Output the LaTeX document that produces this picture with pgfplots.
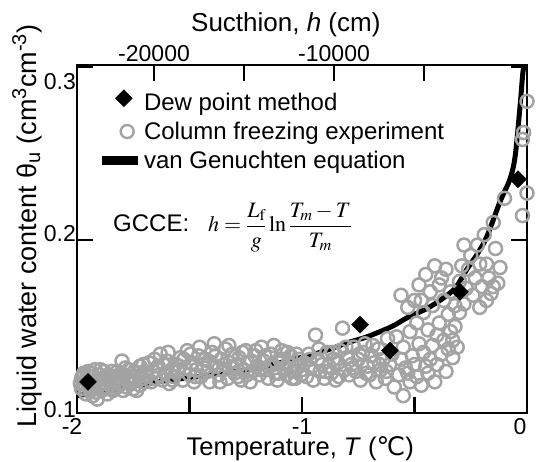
\documentclass[border=0pt]{standalone}
\usepackage{mathptmx}
\usepackage[no-math]{fontspec}
\setmainfont{Liberation Sans}
\newfontfamily\dejavu{DejaVu Sans}
\usepackage{pgfplots}
\pgfplotsset{compat=1.18}
\definecolor{cgray}{HTML}{A3A3A3}
\begin{document}
\begin{tikzpicture}
\begin{axis}[
 at={(0pt,0pt)}, anchor=south west,
 scale only axis, width=450pt, height=348pt,
 xmin=-2, xmax=0, ymin=0.1, ymax=0.301,
 xtick={-2,-1.5,-1,-0.5,0},
 xticklabels={{\makebox[0pt]{-2\hspace{10pt}}},,-1,,{\makebox[0pt]{0\hspace{14pt}}}},
 ytick={0.1,0.2,0.3},
 yticklabels={{\raisebox{-5pt}[0pt][0pt]{0.1}},{\raisebox{-2pt}[0pt][0pt]{0.2}},{\raisebox{-23pt}[0pt][0pt]{0.3}}},
 xtick pos=bottom, ytick pos=both, yticklabel pos=left,
 tick align=inside, major tick length=16pt,
 axis line style={line width=2.5pt},
 every tick/.append style={line width=2.5pt, black},
 tick label style={font=\fontsize{23}{27}\selectfont},
 xticklabel style={anchor=base, yshift=-22pt},
 yticklabel style={anchor=base east, inner sep=0pt, xshift=-1pt},
 xlabel={Temperature, \textit{T} ({\dejavu ℃})},
 xlabel style={at={(axis description cs:0.496,-0.123)}, anchor=base, font=\fontsize{25.5}{30}\selectfont},
 ylabel={Liquid water content θ\textsubscript{u} (cm\textsuperscript{3}cm\textsuperscript{-3})},
 ylabel style={at={(axis description cs:-0.091,0.537)}, anchor=base, font=\fontsize{27}{32}\selectfont},
 legend style={at={(axis description cs:0.044,0.93)}, anchor=north west, draw=none, fill=none,
   font=\fontsize{24}{28}\selectfont, inner sep=0pt, row sep=6pt},
 legend cell align=left,
]
\addlegendimage{legend image code/.code={\node[draw=black,fill=black,rotate=45,minimum size=12pt,inner sep=0pt] at (18pt,0pt) {};}}
\addlegendentry{Dew point method}
\addlegendimage{legend image code/.code={\node[draw=cgray,circle,line width=2.4pt,minimum size=13pt,inner sep=0pt] at (18pt,0pt) {};}}
\addlegendentry{Column freezing experiment}
\addlegendimage{legend image code/.code={\draw[black,line width=9pt] (0pt,0pt) -- (36pt,0pt);}}
\addlegendentry{van Genuchten equation}

% van Genuchten curve
\addplot[black, line width=5pt, smooth, tension=0.5, forget plot] coordinates {
(-2.00,0.110) (-1.90,0.112) (-1.778,0.115) (-1.587,0.119) (-1.40,0.122) (-1.20,0.126)
(-1.084,0.1295) (-0.92,0.135) (-0.787,0.141) (-0.711,0.144) (-0.60,0.150) (-0.533,0.155)
(-0.45,0.160) (-0.387,0.165) (-0.32,0.172) (-0.267,0.183) (-0.22,0.192) (-0.178,0.202)
(-0.12,0.222) (-0.076,0.235) (-0.053,0.248) (-0.031,0.277) (-0.018,0.297) (-0.009,0.302)
};

% column freezing experiment
\addplot[only marks, mark=o, mark size=6.5pt, mark options={draw=cgray, line width=2.5pt}, forget plot] table {
x y
-1.98 0.114
-1.98 0.120
-1.97 0.117
-1.97 0.123
-1.96 0.111
-1.96 0.119
-1.95 0.115
-1.95 0.124
-1.94 0.113
-1.94 0.121
-1.93 0.110
-1.93 0.117
-1.92 0.125
-1.92 0.114
-1.91 0.119
-1.91 0.108
-1.90 0.122
-1.90 0.116
-1.89 0.113
-1.89 0.120
-1.88 0.117
-1.88 0.124
-1.87 0.114
-1.86 0.119
-1.86 0.122
-1.85 0.116
-1.84 0.113
-1.84 0.121
-1.83 0.118
-1.82 0.124
-1.82 0.115
-1.81 0.120
-1.80 0.117
-1.80 0.130
-1.79 0.122
-1.78 0.115
-1.78 0.119
-1.77 0.125
-1.76 0.117
-1.75 0.121
-1.75 0.114
-1.74 0.119
-1.73 0.123
-1.72 0.116
-1.72 0.127
-1.71 0.120
-1.70 0.118
-1.70 0.124
-1.985 0.117
-1.975 0.121
-1.965 0.114
-1.955 0.122
-1.945 0.118
-1.935 0.123
-1.925 0.116
-1.915 0.112
-1.905 0.119
-1.895 0.125
-1.885 0.115
-1.875 0.121
-1.865 0.111
-1.855 0.119
-1.845 0.124
-1.835 0.114
-1.825 0.120
-1.815 0.117
-1.805 0.123
-1.795 0.113
-1.785 0.126
-1.765 0.121
-1.755 0.118
-1.745 0.124
-1.735 0.113
-1.715 0.122
-1.705 0.128
-1.69 0.121
-1.68 0.129
-1.67 0.118
-1.66 0.124
-1.65 0.120
-1.64 0.127
-1.63 0.134
-1.62 0.119
-1.61 0.123
-1.60 0.130
-1.59 0.117
-1.58 0.125
-1.57 0.121
-1.56 0.128
-1.55 0.124
-1.54 0.132
-1.53 0.119
-1.52 0.126
-1.51 0.136
-1.50 0.122
-1.49 0.129
-1.48 0.118
-1.47 0.125
-1.46 0.133
-1.45 0.121
-1.44 0.128
-1.43 0.131
-1.42 0.124
-1.41 0.118
-1.40 0.135
-1.39 0.140
-1.38 0.127
-1.37 0.122
-1.36 0.131
-1.35 0.125
-1.34 0.137
-1.33 0.120
-1.32 0.129
-1.31 0.134
-1.30 0.123
-1.29 0.127
-1.28 0.132
-1.27 0.119
-1.26 0.125
-1.25 0.136
-1.24 0.129
-1.23 0.118
-1.22 0.124
-1.21 0.133
-1.20 0.127
-1.19 0.122
-1.18 0.138
-1.17 0.130
-1.16 0.125
-1.15 0.120
-1.14 0.134
-1.13 0.128
-1.12 0.123
-1.11 0.119
-1.10 0.131
-1.09 0.136
-1.08 0.126
-1.07 0.122
-1.06 0.129
-1.05 0.133
-1.04 0.124
-1.03 0.120
-1.02 0.127
-1.01 0.131
-1.00 0.125
-1.655 0.131
-1.635 0.122
-1.615 0.128
-1.595 0.135
-1.575 0.119
-1.545 0.127
-1.525 0.131
-1.495 0.134
-1.475 0.121
-1.455 0.138
-1.435 0.126
-1.415 0.130
-1.385 0.133
-1.365 0.118
-1.345 0.128
-1.325 0.139
-1.305 0.126
-1.285 0.121
-1.265 0.135
-1.245 0.122
-1.225 0.130
-1.205 0.136
-1.185 0.125
-1.165 0.133
-1.145 0.127
-1.125 0.139
-1.105 0.123
-1.085 0.131
-1.065 0.135
-1.045 0.120
-1.025 0.134
-1.005 0.122
-0.99 0.129
-0.98 0.121
-0.97 0.134
-0.96 0.126
-0.95 0.119
-0.94 0.145
-0.93 0.131
-0.92 0.124
-0.91 0.128
-0.90 0.120
-0.89 0.135
-0.88 0.127
-0.87 0.123
-0.86 0.131
-0.85 0.119
-0.84 0.129
-0.83 0.136
-0.82 0.149
-0.81 0.125
-0.80 0.132
-0.79 0.122
-0.78 0.128
-0.77 0.138
-0.76 0.124
-0.75 0.131
-0.74 0.119
-0.73 0.135
-0.72 0.140
-0.71 0.127
-0.70 0.122
-0.69 0.133
-0.68 0.129
-0.67 0.118
-0.66 0.137
-0.65 0.125
-0.64 0.131
-0.63 0.120
-0.62 0.143
-0.61 0.128
-0.965 0.131
-0.925 0.137
-0.895 0.124
-0.865 0.135
-0.835 0.121
-0.805 0.138
-0.775 0.126
-0.745 0.134
-0.715 0.123
-0.685 0.139
-0.655 0.128
-0.625 0.124
-0.60 0.134
-0.59 0.115
-0.58 0.144
-0.57 0.122
-0.56 0.168
-0.56 0.131
-0.55 0.110
-0.55 0.138
-0.54 0.126
-0.53 0.123
-0.53 0.161
-0.52 0.147
-0.52 0.118
-0.51 0.133
-0.50 0.165
-0.50 0.128
-0.49 0.152
-0.49 0.121
-0.48 0.140
-0.48 0.174
-0.47 0.165
-0.47 0.116
-0.46 0.135
-0.46 0.158
-0.45 0.127
-0.45 0.180
-0.44 0.148
-0.44 0.123
-0.43 0.131
-0.43 0.170
-0.42 0.162
-0.42 0.139
-0.41 0.118
-0.41 0.185
-0.40 0.145
-0.40 0.128
-0.39 0.174
-0.39 0.152
-0.38 0.134
-0.38 0.178
-0.37 0.142
-0.37 0.165
-0.36 0.124
-0.36 0.183
-0.35 0.137
-0.35 0.157
-0.34 0.147
-0.34 0.170
-0.33 0.132
-0.33 0.142
-0.32 0.162
-0.32 0.150
-0.31 0.138
-0.30 0.158
-0.30 0.176
-0.29 0.185
-0.28 0.197
-0.28 0.163
-0.27 0.172
-0.26 0.183
-0.25 0.191
-0.24 0.168
-0.23 0.178
-0.22 0.197
-0.21 0.161
-0.21 0.186
-0.20 0.173
-0.19 0.203
-0.18 0.186
-0.18 0.165
-0.17 0.178
-0.16 0.169
-0.15 0.210
-0.15 0.173
-0.14 0.195
-0.13 0.175
-0.12 0.184
-0.10 0.224
-0.02 0.258
-0.015 0.262
-0.02 0.214
0.00 0.280
0.00 0.227
};

% dew point method
\addplot[only marks, mark=square*, mark size=6pt, mark options={rotate=45, fill=black, draw=black}, forget plot] coordinates {
(-1.951,0.118) (-0.742,0.151) (-0.609,0.136) (-0.298,0.170) (-0.04,0.235)
};

\node[anchor=west, font=\fontsize{24}{28}\selectfont, inner sep=0pt] at (axis description cs:0.08,0.534)
 {GCCE:\hspace{19pt}{\fontsize{22}{26}\selectfont$\displaystyle h=\frac{L_\mathrm{f}}{g}\ln\frac{T_m-T}{T_m}$}};
\end{axis}

\begin{axis}[
 at={(0pt,0pt)}, anchor=south west,
 scale only axis, width=450pt, height=348pt,
 xmin=-24280, xmax=720, ymin=0.1, ymax=0.301,
 axis x line*=top, axis y line=none,
 xtick={-20000,-15000,-10000,-5000}, xticklabels={-20000,,-10000,},
 scaled x ticks=false,
 tick align=inside, major tick length=16pt,
 axis line style={-, line width=2.5pt},
 every tick/.append style={line width=2.5pt, black},
 tick label style={font=\fontsize{23}{27}\selectfont},
 xticklabel style={anchor=base, yshift=3pt},
 xlabel={Sucthion, \textit{h} (cm)},
 xlabel style={at={(axis description cs:0.464,1.095)}, anchor=base, font=\fontsize{26}{30}\selectfont},
]
\addplot[draw=none] coordinates {(-20000,0.2)};
\end{axis}
\pgfresetboundingbox
\path[use as bounding box] (-77pt,-49pt) rectangle (459pt,413pt);
\end{tikzpicture}
\end{document}
